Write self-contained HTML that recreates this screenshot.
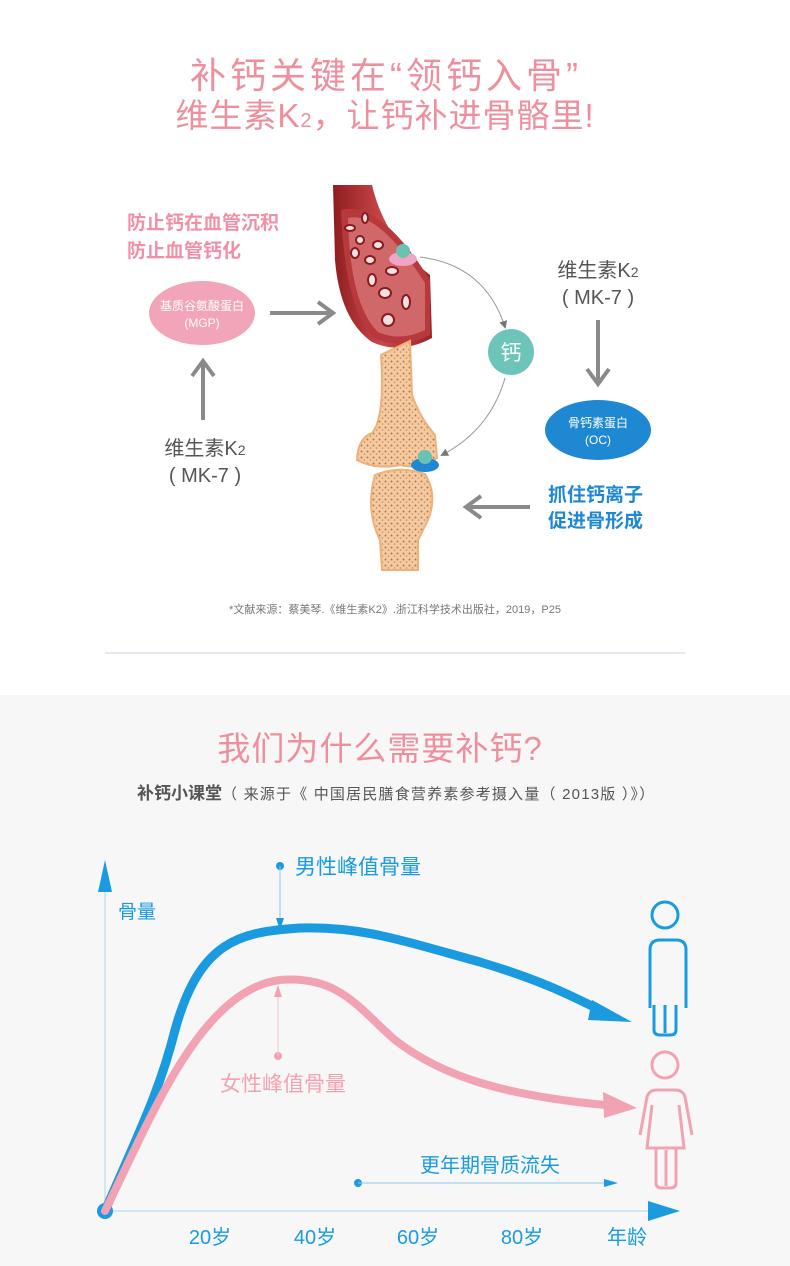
<!DOCTYPE html>
<html><head><meta charset="utf-8"><style>
html,body{margin:0;padding:0;background:#fff}
svg{display:block}
text{font-family:"Liberation Sans","Noto Sans CJK SC",sans-serif}
</style></head><body>
<svg width="790" height="1266" viewBox="0 0 790 1266" xmlns="http://www.w3.org/2000/svg">
<defs>
<marker id="ga" markerWidth="8" markerHeight="8" refX="6" refY="4" orient="auto" markerUnits="userSpaceOnUse"><path d="M0,0 L8,4 L0,8 Z" fill="#777"/></marker>
<pattern id="dots" width="6" height="6" patternUnits="userSpaceOnUse"><rect width="6" height="6" fill="#f4caa0"/><circle cx="1.5" cy="1.5" r="1" fill="#b7754a"/><circle cx="4.5" cy="4" r="0.8" fill="#c78658"/></pattern>
<linearGradient id="vg" x1="0" y1="0" x2="1" y2="0"><stop offset="0" stop-color="#8e1d1f"/><stop offset="0.5" stop-color="#c9474a"/><stop offset="1" stop-color="#9b2426"/></linearGradient>
</defs>
<rect x="0" y="695" width="790" height="571" fill="#f7f7f7"/>

<text x="386" y="88" text-anchor="middle" font-size="36" fill="#ee8f9e" letter-spacing="4">补钙关键在“领钙入骨”</text>
<text x="385" y="127" text-anchor="middle" font-size="33" fill="#ee8f9e" letter-spacing="1">维生素K<tspan font-size="20">2</tspan>，让钙补进骨骼里!</text>

<!-- left -->
<text x="127" y="229" font-size="19" font-weight="bold" fill="#f08fa5">防止钙在血管沉积</text>
<text x="127" y="257" font-size="19" font-weight="bold" fill="#f08fa5">防止血管钙化</text>
<ellipse cx="202" cy="313" rx="53" ry="32" fill="#f2a4b8"/>
<text x="202" y="310" text-anchor="middle" font-size="12" fill="#fff">基质谷氨酸蛋白</text>
<text x="202" y="327" text-anchor="middle" font-size="12" fill="#fff">(MGP)</text>
<path d="M270,313 H332 M318,302 L333,313 L318,324" stroke="#8a8a8a" stroke-width="4" fill="none"/>
<path d="M203,420 V362 M192,376 L203,361 L214,376" stroke="#8a8a8a" stroke-width="4" fill="none"/>
<text x="205" y="455" text-anchor="middle" font-size="20" fill="#555">维生素K<tspan font-size="14">2</tspan></text>
<text x="205" y="482" text-anchor="middle" font-size="20" fill="#555">( MK-7 )</text>

<!-- right -->
<text x="598" y="277" text-anchor="middle" font-size="20" fill="#555">维生素K<tspan font-size="14">2</tspan></text>
<text x="598" y="304" text-anchor="middle" font-size="20" fill="#555">( MK-7 )</text>
<path d="M598,320 V383 M587,369 L598,384 L609,369" stroke="#8a8a8a" stroke-width="4" fill="none"/>
<ellipse cx="598" cy="430" rx="53" ry="30" fill="#1f88d2"/>
<text x="598" y="427" text-anchor="middle" font-size="12" fill="#fff">骨钙素蛋白</text>
<text x="598" y="444" text-anchor="middle" font-size="12" fill="#fff">(OC)</text>
<text x="548" y="501" font-size="19" font-weight="bold" fill="#1f88d2">抓住钙离子</text>
<text x="548" y="527" font-size="19" font-weight="bold" fill="#1f88d2">促进骨形成</text>
<path d="M530,507 H467 M481,496 L466,507 L481,518" stroke="#8a8a8a" stroke-width="4" fill="none"/>

<!-- vessel -->
<path d="M333,185 L372,185 Q385,240 430,275 L432,338 Q400,355 372,342 Q340,320 335,260 Z" fill="url(#vg)"/>
<path d="M341,210 Q380,200 430,280 L430,335 Q398,350 374,338 Q345,310 341,210 Z" fill="#b8393c"/>
<path d="M348,218 Q378,210 425,283 L425,330 Q400,342 378,332 Q350,305 348,218 Z" fill="#d0686a"/>
<g fill="#f4e2e2" stroke="#8a1a1d" stroke-width="2">
<ellipse cx="350" cy="228" rx="5" ry="3"/><ellipse cx="365" cy="218" rx="3" ry="5"/><ellipse cx="360" cy="240" rx="4" ry="4"/>
<ellipse cx="378" cy="245" rx="5" ry="4"/><ellipse cx="355" cy="253" rx="4" ry="5"/><ellipse cx="370" cy="260" rx="5" ry="4"/>
<ellipse cx="392" cy="271" rx="6" ry="4"/><ellipse cx="372" cy="280" rx="4" ry="6"/><ellipse cx="385" cy="293" rx="6" ry="5"/>
<ellipse cx="406" cy="302" rx="4" ry="7"/><ellipse cx="388" cy="320" rx="6" ry="6"/>
</g>
<ellipse cx="403" cy="259" rx="14" ry="7" fill="#f0a5c4"/>
<circle cx="403" cy="251" r="7" fill="#6ac2b2"/>
<!-- bones -->
<path d="M381,355 L410,341 L412,395 Q420,418 435,435 L437,458 Q420,470 400,465 Q375,470 357,460 Q358,438 372,433 Q385,418 381,355 Z" fill="url(#dots)" stroke="#f0b07a" stroke-width="2"/>
<path d="M375,475 Q400,465 425,474 Q438,495 428,520 L418,540 L418,570 L382,570 L380,540 Q365,510 375,475 Z" fill="url(#dots)" stroke="#f0b07a" stroke-width="2"/>
<ellipse cx="425" cy="465" rx="14" ry="7" fill="#1f88d2"/>
<circle cx="425" cy="457" r="7" fill="#6ac2b2"/>
<!-- calcium -->
<circle cx="511" cy="352" r="23" fill="#6cc5b8"/>
<text x="511" y="360" text-anchor="middle" font-size="21" fill="#fff">钙</text>
<path d="M420,257 Q485,265 505,327" stroke="#999" stroke-width="1" fill="none" marker-end="url(#ga)"/>
<path d="M505,378 Q490,430 442,455" stroke="#999" stroke-width="1" fill="none" marker-end="url(#ga)"/>

<text x="395" y="613" text-anchor="middle" font-size="11" fill="#777">*文献来源：蔡美琴.《维生素K2》.浙江科学技术出版社，2019，P25</text>
<line x1="105" y1="653" x2="685" y2="653" stroke="#c8d4e0" stroke-width="1"/>

<!-- section 2 -->
<text x="380" y="760" text-anchor="middle" font-size="33" fill="#ee8f9e" letter-spacing="1">我们为什么需要补钙?</text>
<text x="137" y="799" font-size="17" font-weight="bold" fill="#555">补钙小课堂<tspan font-size="15" font-weight="normal" letter-spacing="1.2">（ 来源于《 中国居民膳食营养素参考摄入量（ 2013版 ）》）</tspan></text>

<!-- axes -->
<line x1="105" y1="885" x2="105" y2="1211" stroke="#a9d8f3" stroke-width="1"/>
<path d="M98,892 L105,860 L112,892 Z" fill="#1a9be0"/>
<line x1="105" y1="1211" x2="660" y2="1211" stroke="#a9d8f3" stroke-width="1"/>
<path d="M648,1201 L680,1211 L648,1221 Z" fill="#1a9be0"/>
<circle cx="105" cy="1211" r="8" fill="#1a9be0"/>
<text x="118" y="918" font-size="19" fill="#1a9be0">骨量</text>

<!-- curves -->
<path d="M105,1211 C140,1130 160,1090 175,1030 C200,940 240,932 300,928 C360,926 400,940 480,962 C540,980 570,995 600,1010" stroke="#1a9be0" stroke-width="9" fill="none" stroke-linecap="round"/>
<path d="M592,1000 L632,1022 L588,1020 Z" fill="#1a9be0"/>
<path d="M105,1211 C150,1120 200,990 280,980 C340,975 360,1010 395,1040 C440,1075 500,1095 605,1105" stroke="#f2a3b3" stroke-width="8" fill="none" stroke-linecap="round"/>
<path d="M603,1092 L637,1108 L604,1118 Z" fill="#f2a3b3"/>

<circle cx="280" cy="866" r="4" fill="#1a9be0"/>
<line x1="280" y1="866" x2="280" y2="926" stroke="#8cc8ee" stroke-width="1"/>
<path d="M276,918 L280,930 L284,918 Z" fill="#1a9be0"/>
<text x="295" y="874" font-size="21" fill="#1a9be0">男性峰值骨量</text>
<circle cx="278" cy="1056" r="4" fill="#f2a3b3"/>
<line x1="278" y1="1056" x2="278" y2="990" stroke="#f5c3cd" stroke-width="1"/>
<path d="M274,997 L278,985 L282,997 Z" fill="#f2a3b3"/>
<text x="220" y="1091" font-size="21" fill="#f2a3b3">女性峰值骨量</text>
<text x="420" y="1172" font-size="20" fill="#1a9be0">更年期骨质流失</text>
<circle cx="358" cy="1183" r="4" fill="#1a9be0"/>
<line x1="358" y1="1183" x2="608" y2="1183" stroke="#8cc8ee" stroke-width="1"/>
<path d="M604,1179 L618,1183 L604,1187 Z" fill="#1a9be0"/>

<g font-size="20" fill="#1a9be0" text-anchor="middle">
<text x="210" y="1244">20岁</text><text x="315" y="1244">40岁</text><text x="418" y="1244">60岁</text><text x="522" y="1244">80岁</text><text x="627" y="1244">年龄</text>
</g>

<!-- male icon -->
<g stroke="#1a9be0" stroke-width="3" fill="none">
<circle cx="665" cy="915" r="13"/>
<path d="M650,1008 V950 Q650,940 660,940 H676 Q686,940 686,950 V1008 M676,1005 V1030 Q676,1035 670,1035 H660 Q654,1035 654,1030 V1005 M665,1005 V1033"/>
</g>
<!-- female icon -->
<g stroke="#f2a3b3" stroke-width="3" fill="none">
<circle cx="665" cy="1065" r="13"/>
<path d="M640,1135 L647,1097 Q649,1090 657,1090 H675 Q683,1090 685,1097 L692,1135 M652,1105 L647,1148 H684 L679,1105 M656,1148 V1183 Q656,1188 662,1188 H670 Q676,1188 676,1183 V1148 M666,1150 V1186"/>
</g>
</svg>
</body></html>
